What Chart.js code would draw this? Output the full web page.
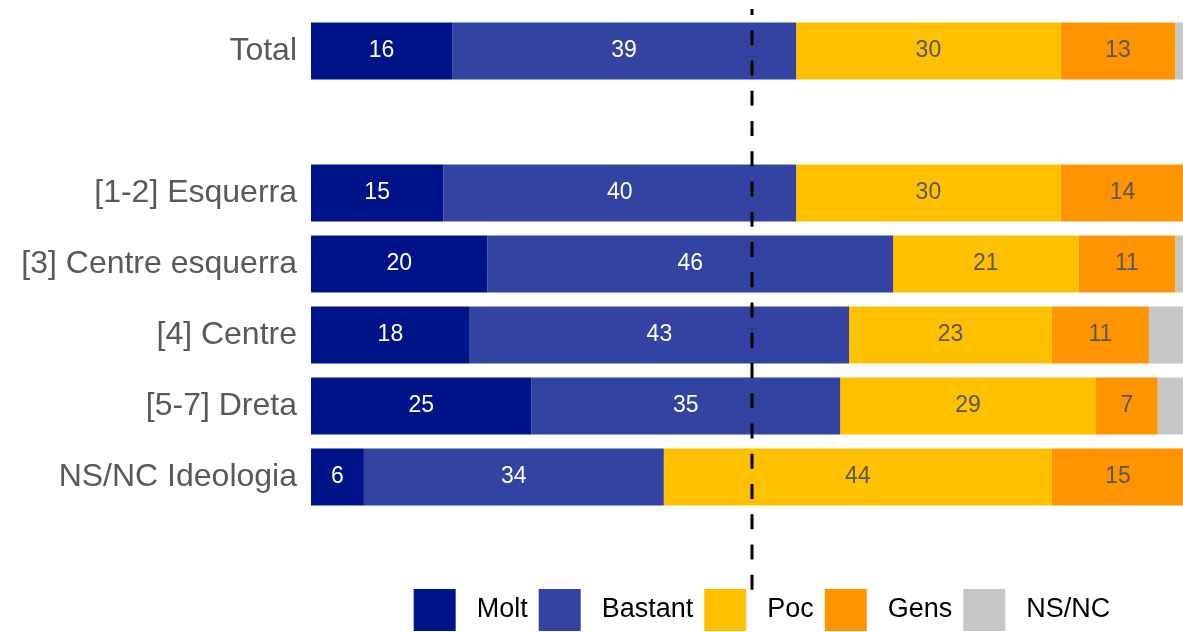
<!DOCTYPE html>
<html>
<head>
<meta charset="utf-8">
<script src="https://cdn.jsdelivr.net/npm/chart.js@4.4.1/dist/chart.umd.min.js"></script>
<style>
    html, body { margin: 0; padding: 0; overflow: hidden; background: #fff; width: 1183px; height: 632px; }
    /* 图比窗口略宽略高，右侧和底部被裁掉，和原图一致 */
    #wrap { position: absolute; left: 0; top: 0; width: 1193px; height: 641px; }
</style>
</head>
<body>
<div id="wrap"><canvas id="myBarChart"></canvas></div>
<script>
    // 数据
    const categories = ['Total', '', '[1-2] Esquerra', '[3] Centre esquerra', '[4] Centre', '[5-7] Dreta', 'NS/NC Ideologia'];
    const seriesNames = ['Molt', 'Bastant', 'Poc', 'Gens', 'NS/NC'];
    const molt    = [16, null, 15, 20, 18, 25, 6];
    const bastant = [39, null, 40, 46, 43, 35, 34];
    const poc     = [30, null, 30, 21, 23, 29, 44];
    const gens    = [13, null, 14, 11, 11, 7, 15];
    const nsnc    = [2, null, 1, 2, 5, 4, 1];
    const refLine = 50;

    const colors = ['#001489', '#3343a1', '#ffc000', '#ff9300', '#c6c6c6'];
    const labelColors = ['#ffffff', '#ffffff', '#595959', '#595959', null];

    Chart.defaults.font.family = '"Liberation Sans", Arial, sans-serif';

    const seriesValues = [molt, bastant, poc, gens, nsnc];
    const datasets = seriesNames.map((name, i) => ({
        label: name,
        data: seriesValues[i],
        backgroundColor: colors[i],
        borderWidth: 0,
        barPercentage: 0.8,
        categoryPercentage: 1.0,
    }));

    // 条形内数字 + 50% 虚线
    const barLabels = {
        id: 'barLabels',
        afterDatasetsDraw(chart) {
            const ctx = chart.ctx;
            ctx.save();
            ctx.font = '23px "Liberation Sans", Arial, sans-serif';
            ctx.textAlign = 'center';
            ctx.textBaseline = 'middle';
            chart.data.datasets.forEach((ds, i) => {
                if (!labelColors[i]) return;
                chart.getDatasetMeta(i).data.forEach((bar, j) => {
                    const v = ds.data[j];
                    if (v == null) return;
                    ctx.fillStyle = labelColors[i];
                    ctx.fillText(String(v), (bar.x + bar.base) / 2, bar.y);
                });
            });

            const x = chart.scales.x.getPixelForValue(refLine);
            const top = chart.chartArea.top - 6.5;
            ctx.strokeStyle = '#000';
            ctx.lineWidth = 3;
            ctx.setLineDash([15, 15.25]);
            ctx.lineDashOffset = top;
            ctx.beginPath();
            ctx.moveTo(x, top);
            ctx.lineTo(x, chart.chartArea.bottom + 77.5);
            ctx.stroke();
            ctx.restore();
        }
    };

    // 图例居中到绘图区附近
    const legendShift = {
        id: 'legendShift',
        afterLayout(chart) {
            const lg = chart.legend;
            lg.left = chart.chartArea.left + 20;
            lg.right = chart.chartArea.right;
            lg.width = lg.right - lg.left;
        }
    };

    const chart = new Chart(document.getElementById('myBarChart').getContext('2d'), {
        type: 'bar',
        data: { labels: categories, datasets: datasets },
        options: {
            indexAxis: 'y',
            responsive: true,
            maintainAspectRatio: false,
            animation: false,
            layout: { padding: { top: 15.5, left: 0, right: 0, bottom: 0 } },
            scales: {
                x: {
                    stacked: true,
                    min: 0,
                    max: 100,
                    display: true,
                    ticks: { display: false },
                    grid: { display: false, drawTicks: false },
                    border: { display: false },
                    afterFit: s => { s.height = 65.5; },
                },
                y: {
                    stacked: true,
                    ticks: {
                        autoSkip: false,
                        color: '#595959',
                        padding: 14,
                        font: { size: 32 },
                    },
                    grid: { display: false, drawTicks: false },
                    border: { display: false },
                    afterFit: s => {
                        s.width = 311;
                        s.paddingTop = 0;
                        s.paddingBottom = 0;
                    },
                },
            },
            plugins: {
                legend: {
                    position: 'bottom',
                    labels: {
                        boxWidth: 42,
                        boxHeight: 42,
                        padding: 11,
                        color: '#000',
                        font: { size: 27 },
                        generateLabels: c => Chart.defaults.plugins.legend.labels.generateLabels(c)
                            .map(l => ({ ...l, text: ' ' + l.text })),
                    },
                },
                tooltip: { enabled: false },
            },
        },
        plugins: [barLabels, legendShift],
    });
</script>
</body>
</html>
